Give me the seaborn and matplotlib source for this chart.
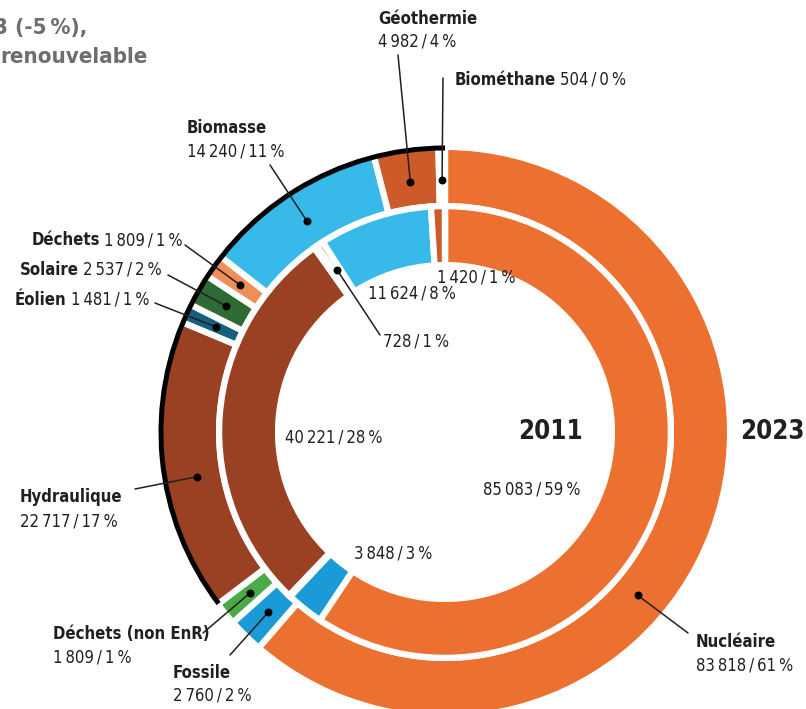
import numpy as np
import seaborn as sns
import matplotlib.pyplot as plt
from matplotlib.patches import Arc

# energy sources, clockwise from 12 o'clock
categories = ["Nucléaire", "Fossile", "Déchets (non EnR)", "Hydraulique", "Éolien",
              "Solaire", "Déchets", "Biomasse", "Géothermie", "Biométhane"]
values_2023 = [83818, 2760, 1809, 22717, 1481, 2537, 1809, 14240, 4982, 504]
pct_2023 = [61, 2, 1, 17, 1, 2, 1, 11, 4, 0]
values_2011 = [85083, 3848, 150, 40221, 250, 60, 728, 11624, 1420, 0]
pct_2011 = [59, 3, 0, 28, 0, 0, 1, 8, 1, 0]
renewable = ["Hydraulique", "Éolien", "Solaire", "Déchets", "Biomasse", "Géothermie", "Biométhane"]
colors = ["#EC7131", "#1A9BD7", "#4BAA48", "#9A4023", "#15607F",
          "#2E6A33", "#F08E5A", "#37B9E9", "#CD5A29", "#F3A77A"]

sns.set_theme(style="white")
plt.rcParams["font.family"] = ["Liberation Sans Narrow", "DejaVu Sans"]
plt.rcParams["font.stretch"] = "condensed"

INK = "#231F20"
CX, CY, R = 445, 432, 282          # ring centre / outer radius in pixels
W, H = 806, 709


def px(x, y):
    return (x - CX) / R, (CY - y) / R


def fmt(v, p):
    s = f"{v:,}".replace(",", "\u2009")
    return f"{s}\u2009/\u2009{p}\u2009%"


fig = plt.figure(figsize=(W / 100, H / 100), dpi=100)
ax = fig.add_axes([0, 0, 1, 1])

lw = 4.5
e = lw / 72 * 100 / 2 / R
wp = dict(edgecolor="white", linewidth=lw)
ax.pie(values_2023, colors=colors, startangle=90, counterclock=False,
       radius=1 + e, wedgeprops=dict(width=1 + e - 0.801, **wp), normalize=True)
ax.pie(values_2011, colors=colors, startangle=90, counterclock=False,
       radius=0.801, wedgeprops=dict(width=0.801 - 0.603 + e, **wp), normalize=True)

ax.set_xlim(-CX / R, (W - CX) / R)
ax.set_ylim((CY - H) / R, CY / R)
ax.set_aspect("equal")
ax.axis("off")


def wedge_angle(vals, i, frac=0.5):
    v = np.array(vals, dtype=float)
    c = v[:i].sum() + frac * v[i]
    return np.deg2rad(90 - 360 * c / v.sum())


# black arc over the renewable part of 2023 (from 12 o'clock counter-clockwise)
i0 = categories.index(renewable[0])
start = 90 - 360 * sum(values_2023[:i0]) / sum(values_2023)
ax.add_patch(Arc((0, 0), 2 * (1 + 2 / R), 2 * (1 + 2 / R), theta1=90, theta2=start + 360,
                 color="black", lw=3.6, zorder=5))

# outer labels: (name, x, y name, y value or None, leader start, dot position in wedge)
outer = [
    ("Nucléaire", 696, 642, 665, (688, 633), 0.59),
    ("Fossile", 173, 673, 696, (230, 655), 0.5),
    ("Déchets (non EnR)", 53, 634, 657, (203, 633), 0.5),
    ("Hydraulique", 20, 497, 522, (135, 489), 0.45),
    ("Éolien", 15, 300, None, (155, 303), 0.5),
    ("Solaire", 20, 270, None, (168, 275), 0.5),
    ("Déchets", 32, 240, None, (185, 245), 0.5),
    ("Biomasse", 187, 128, 152, (270, 165), 0.5),
    ("Géothermie", 378, 19, 42, (398, 55), 0.5),
    ("Biométhane", 455, 80, None, (443, 78), 0.5),
]

fs = 12
renderer = fig.canvas.get_renderer()
for name, x, y1, y2, lead, frac in outer:
    i = categories.index(name)
    label = fmt(values_2023[i], pct_2023[i])
    t = ax.text(*px(x, y1), name, fontsize=fs, fontweight="bold", color=INK,
                ha="left", va="center")
    if y2 is None:
        bb = t.get_window_extent(renderer)
        xe, _ = ax.transData.inverted().transform((bb.x1, bb.y0))
        ax.text(xe + 4 / R, px(x, y1)[1], label, fontsize=fs, color=INK,
                ha="left", va="center")
    else:
        ax.text(*px(x, y2), label, fontsize=fs, color=INK, ha="left", va="center")
    a = wedge_angle(values_2023, i, frac)
    dx, dy = 0.895 * np.cos(a), 0.895 * np.sin(a)
    ax.plot([px(*lead)[0], dx], [px(*lead)[1], dy], color=INK, lw=1.1, zorder=6)
    ax.scatter([dx], [dy], s=22, color="black", zorder=7)

# inner labels (2011)
inner = [
    ("Nucléaire", 483, 489, None),
    ("Fossile", 354, 553, None),
    ("Hydraulique", 285, 437, None),
    ("Déchets", 383, 342, (380, 335)),
    ("Biomasse", 368, 293, None),
    ("Géothermie", 437, 278, None),
]
for name, x, y, lead in inner:
    i = categories.index(name)
    ax.text(*px(x, y), fmt(values_2011[i], pct_2011[i]), fontsize=fs, color=INK,
            ha="left", va="center")
    if lead is not None:
        a = wedge_angle(values_2011, i)
        dx, dy = 0.69 * np.cos(a), 0.69 * np.sin(a)
        ax.plot([px(*lead)[0], dx], [px(*lead)[1], dy], color=INK, lw=1.1, zorder=6)
        ax.scatter([dx], [dy], s=22, color="black", zorder=7)

ax.text(*px(583, 432), "2011", fontsize=18.5, fontweight="bold", color=INK, ha="right", va="center")
ax.text(*px(740, 432), "2023", fontsize=18.5, fontweight="bold", color=INK, ha="left", va="center")

# title (cut by the left edge, as in the source)
ax.text(*px(-6, 28), "3 (-5\u2009%),", fontsize=16, fontweight="bold", color="#6D6E71",
        ha="left", va="center")
ax.text(*px(0, 57), "renouvelable", fontsize=16, fontweight="bold", color="#6D6E71",
        ha="left", va="center")

fig.savefig("out.png", dpi=100)
